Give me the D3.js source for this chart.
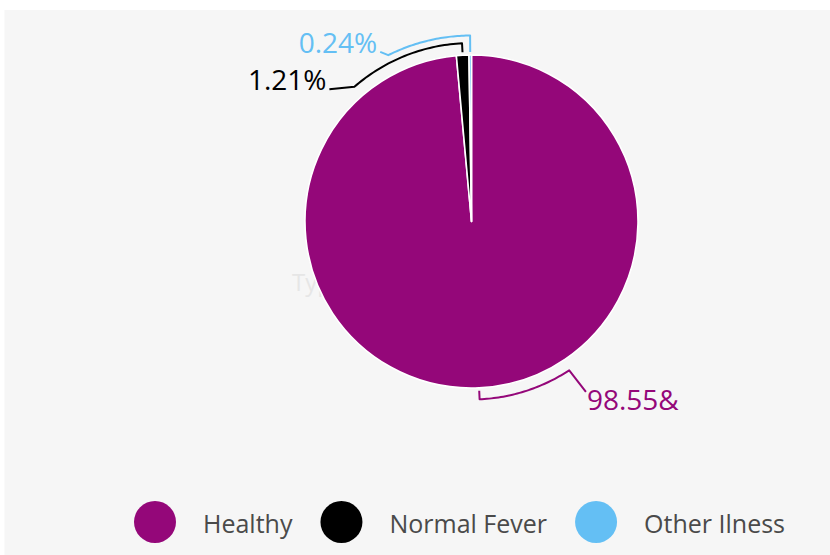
<!DOCTYPE html>
<html>
<head>
<meta charset="utf-8">
<script src="https://cdn.jsdelivr.net/npm/d3@7"></script>
<style>
  html, body { margin: 0; padding: 0; background: #ffffff; }
  svg { display: block; font-family: "Open Sans", sans-serif; }
</style>
</head>
<body>
<svg id="chart" width="830" height="555"></svg>
<script>
// ---- data ----
const categories = ["Healthy", "Normal Fever", "Other Ilness"];
const values = [98.55, 1.21, 0.24];
const labels = ["98.55&", "1.21%", "0.24%"];
const colors = ["#940779", "#000000", "#64bff4"];

// ---- layout ----
const W = 830, H = 555;
const cx = 471.5, cy = 221.5, R = 166.5;
// leader layout per slice: radius of bend arc, angle (deg, clockwise from top) where arc ends, final segment offset, text offset
const leader = [
  { r: 178, a: 146.7, dx: 16.7, dy: 21.6, tx: 1, ty: 18.4, anchor: "start" },
  { r: 178.5, a: -41, dx: -25, dy: 2.4, tx: -3, ty: 1, anchor: "end" },
  { r: 186, a: -26.6, dx: -8, dy: -3.3, tx: -3, ty: 0.8, anchor: "end" }
];

const svg = d3.select("#chart");

svg.append("rect").attr("x", 4.5).attr("y", 10).attr("width", W - 4.5).attr("height", H - 10)
  .attr("fill", "#f6f6f6");

// faint background title, mostly hidden behind the pie
svg.append("text").attr("x", 292).attr("y", 291).attr("font-size", 24).attr("fill", "#e6e6e6")
  .text("Type of Illness");

const g = svg.append("g").attr("transform", `translate(${cx},${cy})`);

const pie = d3.pie().sort(null).value(d => d.v).startAngle(0).endAngle(2 * Math.PI);
const arcs = pie(values.map((v, i) => ({ v, i })));
const arc = d3.arc().innerRadius(0).outerRadius(R);

g.selectAll("path.slice").data(arcs).join("path")
  .attr("class", "slice")
  .attr("d", arc)
  .attr("fill", d => colors[d.data.i])
  .attr("stroke", "#ffffff")
  .attr("stroke-width", 1.6)
  .attr("stroke-linejoin", "round");

function pt(angle, r) { return [Math.sin(angle) * r, -Math.cos(angle) * r]; }

arcs.forEach(d => {
  const i = d.data.i;
  const L = leader[i];
  const mid = (d.startAngle + d.endAngle) / 2;
  // normalize the target angle near mid
  let target = L.a * Math.PI / 180;
  while (target - mid > Math.PI) target -= 2 * Math.PI;
  while (mid - target > Math.PI) target += 2 * Math.PI;
  const pts = [pt(mid, R + 3), pt(mid, L.r)];
  const n = 40;
  for (let k = 1; k <= n; k++) {
    const a = mid + (target - mid) * k / n;
    pts.push(pt(a, L.r));
  }
  const last = pts[pts.length - 1];
  const endP = [last[0] + L.dx, last[1] + L.dy];
  pts.push(endP);
  g.append("path")
    .attr("d", d3.line()(pts))
    .attr("fill", "none")
    .attr("stroke", colors[i])
    .attr("stroke-width", 2)
    .attr("stroke-linejoin", "round");
  g.append("text")
    .attr("x", endP[0] + L.tx)
    .attr("y", endP[1] + L.ty)
    .attr("text-anchor", L.anchor)
    .attr("font-size", 28)
    .attr("fill", colors[i])
    .text(labels[i]);
});

// ---- legend ----
const legend = svg.append("g");
let x = 155;
const ly = 522;
categories.forEach((c, i) => {
  legend.append("circle").attr("cx", x).attr("cy", ly).attr("r", 21).attr("fill", colors[i]);
  const t = legend.append("text").attr("x", x + 48).attr("y", ly + 11)
    .attr("font-size", 25).attr("fill", "#4a4a4a").text(c);
  const w = t.node().getComputedTextLength();
  x = x + 48 + w + 28 + 21;
});
</script>
</body>
</html>
